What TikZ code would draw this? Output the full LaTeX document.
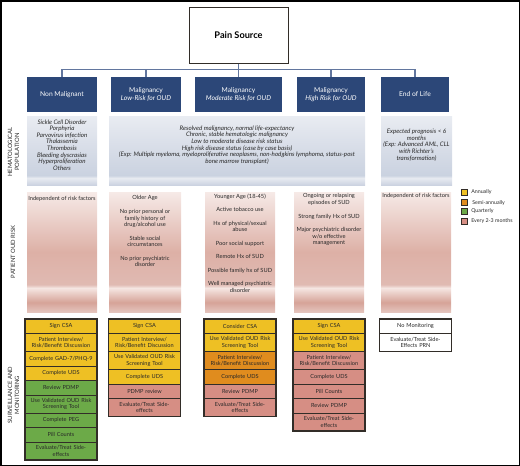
\documentclass[tikz,border=0pt]{standalone}
\usepackage{fontspec}
\setmainfont{Lato}
\usetikzlibrary{positioning, calc}

\definecolor{navy1}{RGB}{44,71,120}
\definecolor{wire1}{RGB}{98,118,158}
\definecolor{edge1}{RGB}{50,45,40}
\definecolor{ink1}{RGB}{40,40,40}
\definecolor{yellow1}{RGB}{238,192,36}
\definecolor{orange1}{RGB}{224,140,30}
\definecolor{green1}{RGB}{108,170,72}
\definecolor{rose1}{RGB}{214,142,132}
\definecolor{hemT}{RGB}{233,236,242}
\definecolor{hemM}{RGB}{218,223,233}
\definecolor{hemD}{RGB}{202,210,224}
\definecolor{hemL}{RGB}{232,235,241}
\definecolor{hemB}{RGB}{204,211,225}
\definecolor{rskT}{RGB}{246,234,231}
\definecolor{rskM}{RGB}{221,176,166}
\definecolor{rskD}{RGB}{224,186,178}
\definecolor{rskL}{RGB}{245,230,226}
\definecolor{rskB}{RGB}{214,163,152}
\definecolor{rskE}{RGB}{228,196,189}

\pgfdeclareverticalshading{hemshade}{100bp}{color(0bp)=(hemB); color(25bp)=(hemB); color(30bp)=(hemL); color(32bp)=(hemD); color(55bp)=(hemM); color(75bp)=(hemT); color(100bp)=(hemT)}
\pgfdeclareverticalshading{riskshade}{100bp}{color(0bp)=(rskE); color(25bp)=(rskE); color(29bp)=(rskB); color(35bp)=(rskL); color(36.5bp)=(rskD); color(50bp)=(rskM); color(75bp)=(rskT); color(100bp)=(rskT)}

\newcommand{\headfont}{\fontsize{6.7}{7.6}\selectfont}
\newcommand{\listfont}{\fontsize{5.7}{6.6}\selectfont}
\newcommand{\hemfont}{\fontsize{6.2}{6.6}\selectfont\itshape}
\newcommand{\cellfont}{\fontsize{5.6}{6.6}\selectfont}
\newcommand{\sidefont}{\fontsize{5.9}{7}\selectfont}

\tikzset{
  headbox/.style={fill=navy1, text=white, minimum height=35pt, align=center, font=\headfont, inner sep=1pt},
  hembox/.style={shading=hemshade, minimum height=69pt, inner sep=0pt},
  riskbox/.style={shading=riskshade, minimum height=120pt, inner sep=0pt},
  listtext/.style={align=center, font=\listfont, text=ink1, inner sep=0pt},
  moncell/.style={draw=edge1, line width=0.7pt, text width=70pt, inner xsep=1pt, inner ysep=0pt, outer sep=0pt, minimum height=14.5pt, align=center, font=\cellfont, text=ink1},
  twoline/.style={minimum height=18pt},
  yel/.style={moncell, fill=yellow1},
  org/.style={moncell, fill=orange1},
  grn/.style={moncell, fill=green1},
  rose/.style={moncell, fill=rose1},
  blank/.style={moncell, fill=white},
  stackrim/.style={draw=edge1, line width=1.2pt},
  busline/.style={draw=wire1, line width=1.1pt},
  legendsq/.style={draw=edge1, line width=0.6pt, minimum size=6.5pt, inner sep=0pt},
  legendtext/.style={font=\fontsize{5.3}{6}\selectfont, text=ink1, inner sep=0pt},
  sidelabel/.style={rotate=90, align=center, font=\sidefont, text=ink1, inner sep=0pt}
}

\begin{document}
\begin{tikzpicture}[x=1pt, y=-1pt]
  \useasboundingbox (0,0) rectangle (520,466);
  \draw[line width=1.5pt] (0.75,0.75) rectangle (519.25,465.25);

  % top of the tree
  \node[draw=edge1, line width=1pt, fill=white, minimum width=99pt, minimum height=56pt, font=\fontsize{9.2}{11}\selectfont\bfseries] (src) at (238.5,35) {Pain Source};

  \node[headbox, minimum width=70pt] (h1) at (62,94.5) {Non Malignant};
  \node[headbox, minimum width=70pt] (h2) at (146,94.5) {Malignancy\\\textit{Low-Risk for OUD}};
  \node[headbox, minimum width=87pt] (h3) at (238.5,94.5) {Malignancy\\\textit{Moderate Risk for OUD}};
  \node[headbox, minimum width=68pt] (h4) at (331,94.5) {Malignancy\\\textit{High Risk for OUD}};
  \node[headbox, minimum width=68pt] (h5) at (415,94.5) {End of Life};

  \draw[busline] (src.south) -- (h3.north);
  \draw[busline] (h1.north) -- ++(0,-7) -| (h5.north);
  \foreach \k in {2,4}
    \draw[busline] (h\k.north) -- ++(0,-7);

  % hematological population
  \node[hembox, minimum width=70pt] (hp1) at (62,150.5) {};
  \node[hembox, minimum width=256pt] (hp2) at (237,150.5) {};
  \node[hembox, minimum width=71pt] (hp3) at (416.5,150.5) {};
  \node[listtext, font=\hemfont] (ht1) at (62,145) {Sickle Cell Disorder\\Porphyria\\Parvovirus infection\\Thalassemia\\Thrombosis\\Bleeding dyscrasias\\Hyperproliferation\\Others};
  \node[listtext, font=\hemfont] (ht2) at (237,145) {Resolved malignancy, normal life-expectancy\\Chronic, stable hematologic malignancy\\Low to moderate disease risk status\\High risk disease status (case by case basis)\\(Exp: Multiple myeloma, myeloproliferative neoplasms, non-hodgkins lymphoma, status-post\\bone marrow transplant)};
  \node[listtext, font=\hemfont] (ht3) at (416.5,145) {Expected prognosis < 6\\months\\(Exp: Advanced AML, CLL\\with Richter’s\\transformation)};

  % patient OUD risk
  \node[riskbox, minimum width=70pt] (rb1) at (62,252) {};
  \node[riskbox, minimum width=72pt] (rb2) at (145,252) {};
  \node[riskbox, minimum width=70pt] (rb3) at (240,252) {};
  \node[riskbox, minimum width=70pt] (rb4) at (329,252) {};
  \node[riskbox, minimum width=70pt] (rb5) at (416,252) {};
  \node[listtext, anchor=north] (rt1) at (62,196.5) {Independent of risk factors};
  \node[listtext, anchor=north] (rt2) at (145,195.5) {Older Age\\[6.9pt]No prior personal or\\family history of\\drug/alcohol use\\[6.9pt]Stable social\\circumstances\\[6.9pt]No prior psychiatric\\disorder};
  \node[listtext, anchor=north] (rt3) at (240,193.5) {Younger Age (18-45)\\[6.9pt]Active tobacco use\\[6.9pt]Hx of physical/sexual\\abuse\\[6.9pt]Poor social support\\[6.9pt]Remote Hx of SUD\\[6.9pt]Possible family hx of SUD\\[6.9pt]Well managed psychiatric\\disorder};
  \node[listtext, anchor=north] (rt4) at (329,193.5) {Ongoing or relapsing\\episodes of SUD\\[6.9pt]Strong family Hx of SUD\\[6.9pt]Major psychiatric disorder\\w/o effective\\management};
  \node[listtext, anchor=north] (rt5) at (416,193.5) {Independent of risk factors};

  % surveillance and monitoring
  \node[yel, anchor=north] (a1) at (61,319) {Sign CSA};
  \node[yel, twoline, below=0pt of a1] (a2) {Patient Interview/\\Risk/Benefit Discussion};
  \node[yel, below=0pt of a2] (a3) {Complete GAD-7/PHQ-9};
  \node[yel, below=0pt of a3] (a4) {Complete UDS};
  \node[grn, below=0pt of a4] (a5) {Review PDMP};
  \node[grn, twoline, below=0pt of a5] (a6) {Use Validated OUD Risk\\Screening Tool};
  \node[grn, below=0pt of a6] (a7) {Complete PEG};
  \node[grn, below=0pt of a7] (a8) {Pill Counts};
  \node[grn, twoline, below=0pt of a8] (a9) {Evaluate/Treat Side-\\effects};
  \draw[stackrim] (a1.north west) rectangle (a9.south east);

  \node[yel, anchor=north] (b1) at (144.5,319) {Sign CSA};
  \node[yel, twoline, below=0pt of b1] (b2) {Patient Interview/\\Risk/Benefit Discussion};
  \node[yel, twoline, below=0pt of b2] (b3) {Use Validated OUD Risk\\Screening Tool};
  \node[yel, below=0pt of b3] (b4) {Complete UDS};
  \node[rose, below=0pt of b4] (b5) {PDMP review};
  \node[rose, twoline, below=0pt of b5] (b6) {Evaluate/Treat Side-\\effects};
  \draw[stackrim] (b1.north west) rectangle (b6.south east);

  \node[yel, anchor=north] (c1) at (240,319) {Consider CSA};
  \node[yel, twoline, below=0pt of c1] (c2) {Use Validated OUD Risk\\Screening Tool};
  \node[org, twoline, below=0pt of c2] (c3) {Patient Interview/\\Risk/Benefit Discussion};
  \node[org, below=0pt of c3] (c4) {Complete UDS};
  \node[rose, below=0pt of c4] (c5) {Review PDMP};
  \node[rose, twoline, below=0pt of c5] (c6) {Evaluate/Treat Side-\\effects};
  \draw[stackrim] (c1.north west) rectangle (c6.south east);

  \node[yel, anchor=north] (d1) at (329,319) {Sign CSA};
  \node[yel, twoline, below=0pt of d1] (d2) {Use Validated OUD Risk\\Screening Tool};
  \node[rose, twoline, below=0pt of d2] (d3) {Patient Interview/\\Risk/Benefit Discussion};
  \node[rose, below=0pt of d3] (d4) {Complete UDS};
  \node[rose, below=0pt of d4] (d5) {Pill Counts};
  \node[rose, below=0pt of d5] (d6) {Review PDMP};
  \node[rose, twoline, below=0pt of d6] (d7) {Evaluate/Treat Side-\\effects};
  \draw[stackrim] (d1.north west) rectangle (d7.south east);

  \node[blank, anchor=north] (e1) at (415.5,319) {No Monitoring};
  \node[blank, twoline, below=0pt of e1] (e2) {Evaluate/Treat Side-\\Effects PRN};
  \draw[stackrim] (e1.north west) rectangle (e2.south east);

  % legend
  \node[legendsq, fill=yellow1] (k1) at (464.5,192.5) {};
  \node[legendsq, fill=orange1] (k2) at (464.5,202.5) {};
  \node[legendsq, fill=green1] (k3) at (464.5,211.5) {};
  \node[legendsq, fill=rose1] (k4) at (464.5,221.5) {};
  \node[legendtext, right=3pt of k1] (kt1) {Annually};
  \node[legendtext, right=4pt of k2] (kt2) {Semi-annually};
  \node[legendtext, right=3pt of k3] (kt3) {Quarterly};
  \node[legendtext, right=3pt of k4] (kt4) {Every 2-3 months};

  % row titles
  \node[sidelabel] (s1) at (13.5,152) {HEMATOLOGICAL\\POPULATION};
  \node[sidelabel] (s2) at (13,252) {PATIENT OUD RISK};
  \node[sidelabel] (s3) at (13.5,395) {SURVEILLANCE AND\\MONITORING};
\end{tikzpicture}
\end{document}
